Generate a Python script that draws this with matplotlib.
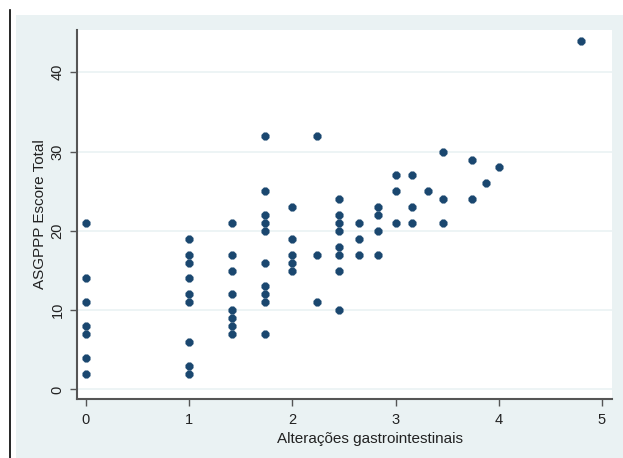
import matplotlib
matplotlib.use("Agg")
import matplotlib.pyplot as plt
from matplotlib.patches import Rectangle
from matplotlib.lines import Line2D

# ================= DATA =================

# x = alteracoes gastrointestinais, one entry per column of points
x_cols = [0, 1, 1.414, 1.732, 2, 2.236, 2.449, 2.646, 2.828,
          3, 3.162, 3.317, 3.464, 3.742, 3.873, 4, 4.796]
# y = ASGPPP escore total, points in each column
y_cols = [
    [21, 14, 11, 8, 7, 4, 2],
    [19, 17, 16, 14, 12, 11, 6, 3, 2],
    [21, 17, 15, 12, 10, 9, 8, 7],
    [32, 25, 22, 21, 20, 16, 13, 12, 11, 7],
    [23, 19, 17, 16, 15],
    [32, 17, 11],
    [24, 22, 21, 20, 18, 17, 15, 10],
    [21, 19, 17],
    [23, 22, 20, 17],
    [27, 25, 21],
    [27, 23, 21],
    [25],
    [30, 24, 21],
    [29, 24],
    [26],
    [28],
    [44],
]
x_ticks = [0, 1, 2, 3, 4, 5]
y_ticks = [0, 10, 20, 30, 40]
x_title = "Alterações gastrointestinais"
y_title = "ASGPPP Escore Total"

xs = [x for x, ys in zip(x_cols, y_cols) for _ in ys]
ys = [y for col in y_cols for y in col]

# ================= PLOT =================

W, H = 623, 458
bg = "#eaf2f3"
navy = "#1a476f"

plt.rcParams['font.family'] = ['Liberation Sans', 'DejaVu Sans']

fig = plt.figure(figsize=(W / 100, H / 100), dpi=100)
fig.patch.set_facecolor("white")

# stata style outer region + left border line
fig.patches.append(Rectangle((16 / W, 0), 1, 1 - 15 / H, transform=fig.transFigure,
                             facecolor=bg, edgecolor="none", zorder=-10))
fig.lines.append(Line2D([10 / W, 10 / W], [0, 1 - 10 / H], transform=fig.transFigure,
                        color="black", lw=1.2))

ax = fig.add_axes([77 / W, 1 - 399 / H, (612 - 77) / W, (399 - 30) / H])
ax.set_facecolor("white")

ax.scatter(xs, ys, s=32, marker="8", color=navy, edgecolors=navy, linewidths=0.5, zorder=3)

ax.set_xlim(-0.087, 5.097)
ax.set_ylim(-1.2, 45.33)
ax.set_xticks(x_ticks)
ax.set_yticks(y_ticks)

ax.grid(axis="y", color=bg, lw=1.2, zorder=0)
for s in ["top", "right"]:
    ax.spines[s].set_visible(False)
for s in ["left", "bottom"]:
    ax.spines[s].set_color("#555555")
    ax.spines[s].set_linewidth(1.5)

ax.tick_params(axis="both", direction="out", length=5, width=1, color="#555555",
               labelsize=10.5, labelcolor="#222222")
ax.tick_params(axis="x", pad=5)
ax.tick_params(axis="y", pad=4)
for lab in ax.get_yticklabels():
    lab.set_rotation(90)
    lab.set_va("center")

ax.set_xlabel(x_title, fontsize=11, color="#222222")
ax.set_ylabel(y_title, fontsize=11, color="#222222")
ax.xaxis.set_label_coords((370 - 77) / (612 - 77), -(432 - 399) / (399 - 30))
ax.yaxis.set_label_coords(-(77 - 47) / (612 - 77), 0.5)

fig.savefig("out.png", dpi=100, facecolor=fig.get_facecolor())
